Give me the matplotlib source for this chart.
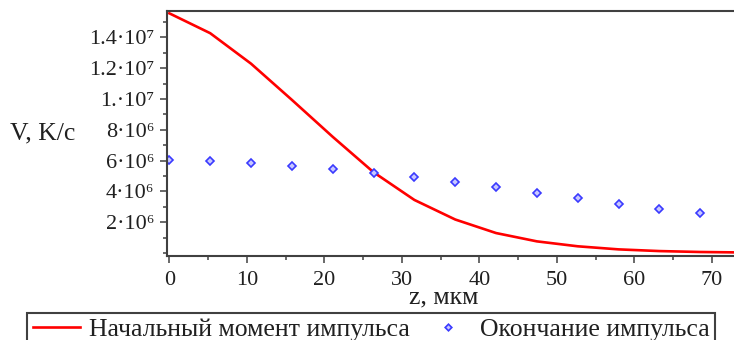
import matplotlib
matplotlib.use('Agg')
import matplotlib.pyplot as plt
from matplotlib.ticker import FixedLocator, MultipleLocator

# depth grid, мкм
z = [0.0, 5.27, 10.54, 15.81, 21.08, 26.35, 31.62, 36.89, 42.16, 47.43,
     52.70, 57.97, 63.24, 68.51, 73.78]
# heating rate at the start of the pulse, K/c
v_start = [15.57e6, 14.28e6, 12.30e6, 9.95e6, 7.55e6, 5.25e6, 3.45e6, 2.18e6,
           1.30e6, 0.76e6, 0.44e6, 0.24e6, 0.13e6, 0.07e6, 0.04e6]
# heating rate at the end of the pulse (no value at the last depth)
z_end = z[:14]
v_end = [6.05e6, 5.98e6, 5.85e6, 5.68e6, 5.46e6, 5.20e6, 4.92e6, 4.60e6,
         4.27e6, 3.92e6, 3.56e6, 3.21e6, 2.88e6, 2.58e6]

yticks = [2e6, 4e6, 6e6, 8e6, 1e7, 1.2e7, 1.4e7]
ylabels = ['2·10⁶', '4·10⁶', '6·10⁶', '8·10⁶', '1.·10⁷', '1.2·10⁷', '1.4·10⁷']
xticks = [0, 10, 20, 30, 40, 50, 60, 70]

serif = ['Liberation Serif', 'DejaVu Serif']
plt.rcParams['font.family'] = serif
plt.rcParams['font.size'] = 16
txt = '#202020'
axc = '#404040'

fig = plt.figure(figsize=(7.34, 3.40), dpi=100)
ax = fig.add_axes([166.7 / 734, 84 / 340, 1 - 166.7 / 734, 245.3 / 340])

ax.plot(z, v_start, color='#ff0000', lw=1.9, label='Начальный момент импульса')
ax.plot(z_end, v_end, ls='none', marker='D', ms=4.2, mfc='#c8c8ff',
        mec='#3a3aff', mew=1.2, label='Окончание импульса')

ax.set_xlim(-0.34, 72.86)
ax.set_ylim(-0.19e6, 15.74e6)

ax.yaxis.set_major_locator(FixedLocator(yticks))
ax.set_yticklabels(ylabels)
ax.yaxis.set_minor_locator(MultipleLocator(1e6))
ax.set_xticks(xticks)
ax.xaxis.set_minor_locator(MultipleLocator(5))

ax.tick_params(which='major', length=5, width=1.1, color=axc, labelcolor=txt, labelsize=16)
ax.tick_params(which='minor', length=3, width=1.1, color=axc)
ax.tick_params(axis='x', which='major', pad=6)
ax.tick_params(axis='y', which='major', pad=4)

for side in ['left', 'bottom', 'top']:
    ax.spines[side].set_color(axc)
    ax.spines[side].set_linewidth(1.5)
ax.spines['right'].set_visible(False)

ax.set_ylabel('V, K/c', rotation=0, ha='left', va='center', color=txt, fontsize=18.5)
ax.yaxis.set_label_coords(-0.276, 0.50)
ax.set_xlabel('z, мкм', color=txt, fontsize=18.5)
ax.xaxis.set_label_coords(0.488, -0.168)
ax.xaxis.label.set_va('center')

leg = fig.legend(loc='upper left', ncol=2, mode='expand',
                 bbox_to_anchor=(27.3 / 734, 0, 688 / 734, 1 - 312.5 / 340),
                 borderaxespad=0, fancybox=False, framealpha=1,
                 edgecolor=axc, fontsize=18.5, handlelength=1.85,
                 handletextpad=0.32, borderpad=0.22, markerscale=0.8)
leg.get_frame().set_linewidth(1.5)
for t in leg.get_texts():
    t.set_color(txt)

fig.savefig('out.png', dpi=100)
